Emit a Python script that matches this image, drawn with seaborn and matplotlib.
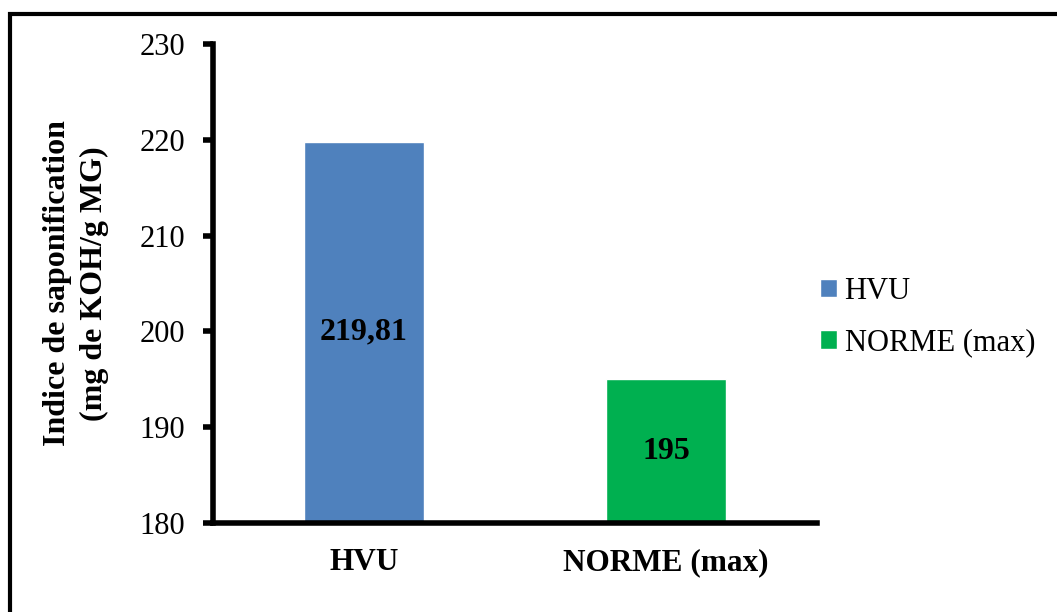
import matplotlib
matplotlib.use("Agg")
import matplotlib.pyplot as plt
import seaborn as sns
import pandas as pd
from matplotlib.patches import Rectangle

# Data
categories = ["HVU", "NORME (max)"]
values = [219.81, 195]
value_labels = ["219,81", "195"]
colors = ["#4F81BD", "#00B050"]
y_ticks = [180, 190, 200, 210, 220, 230]

sns.set_theme(style="white")
plt.rcParams["font.family"] = ["Liberation Serif", "DejaVu Serif"]
plt.rcParams["text.color"] = "black"
plt.rcParams["axes.labelcolor"] = "black"
plt.rcParams["xtick.color"] = "black"
plt.rcParams["ytick.color"] = "black"

df = pd.DataFrame({"categorie": categories, "valeur": values})

fig = plt.figure(figsize=(10.57, 6.12), dpi=100)
ax = fig.add_axes([213 / 1057, 1 - 523 / 612, (817 - 213) / 1057, (523 - 44) / 612])

sns.barplot(data=df, x="categorie", y="valeur", hue="categorie",
            palette=colors, width=0.4, dodge=False, legend=True,
            saturation=1, ax=ax)

ax.set_ylim(180, 230)
ax.set_xlim(-0.5, 1.5)
ax.set_yticks(y_ticks)
ax.set_yticklabels([str(t) for t in y_ticks], fontsize=22)
ax.tick_params(axis="y", direction="out", length=7, width=4, pad=13,
               left=True, colors="black")
ax.tick_params(axis="x", length=0, pad=18, colors="black")
for lbl in ax.get_xticklabels():
    lbl.set_fontsize(22.5)
    lbl.set_fontweight("bold")

for side in ["top", "right"]:
    ax.spines[side].set_visible(False)
for side in ["left", "bottom"]:
    ax.spines[side].set_linewidth(4)
    ax.spines[side].set_color("black")

ax.set_xlabel("")
ax.set_ylabel("Indice de saponification\n(mg de KOH/g MG)",
              fontsize=23, fontweight="bold", labelpad=22, linespacing=1.35,
              color="black")

# Values written in the middle of each bar
for container, lab in zip(ax.containers, value_labels):
    ax.bar_label(container, labels=[lab], label_type="center",
                 fontsize=23, fontweight="bold", color="black")

leg = ax.legend(loc="center left", bbox_to_anchor=(0.985, 0.43),
                frameon=False, fontsize=22, handlelength=0.55,
                handleheight=0.55, handletextpad=0.25, labelspacing=0.75,
                borderaxespad=0.0)
for t in leg.get_texts():
    t.set_color("black")

# Outer frame of the figure
frame = Rectangle((10 / 1057, -0.5), 2.0, 1 - 13.5 / 612 + 0.5,
                  transform=fig.transFigure, fill=False,
                  edgecolor="black", linewidth=3, clip_on=False)
fig.patches.append(frame)

fig.savefig("out.png", dpi=100)
